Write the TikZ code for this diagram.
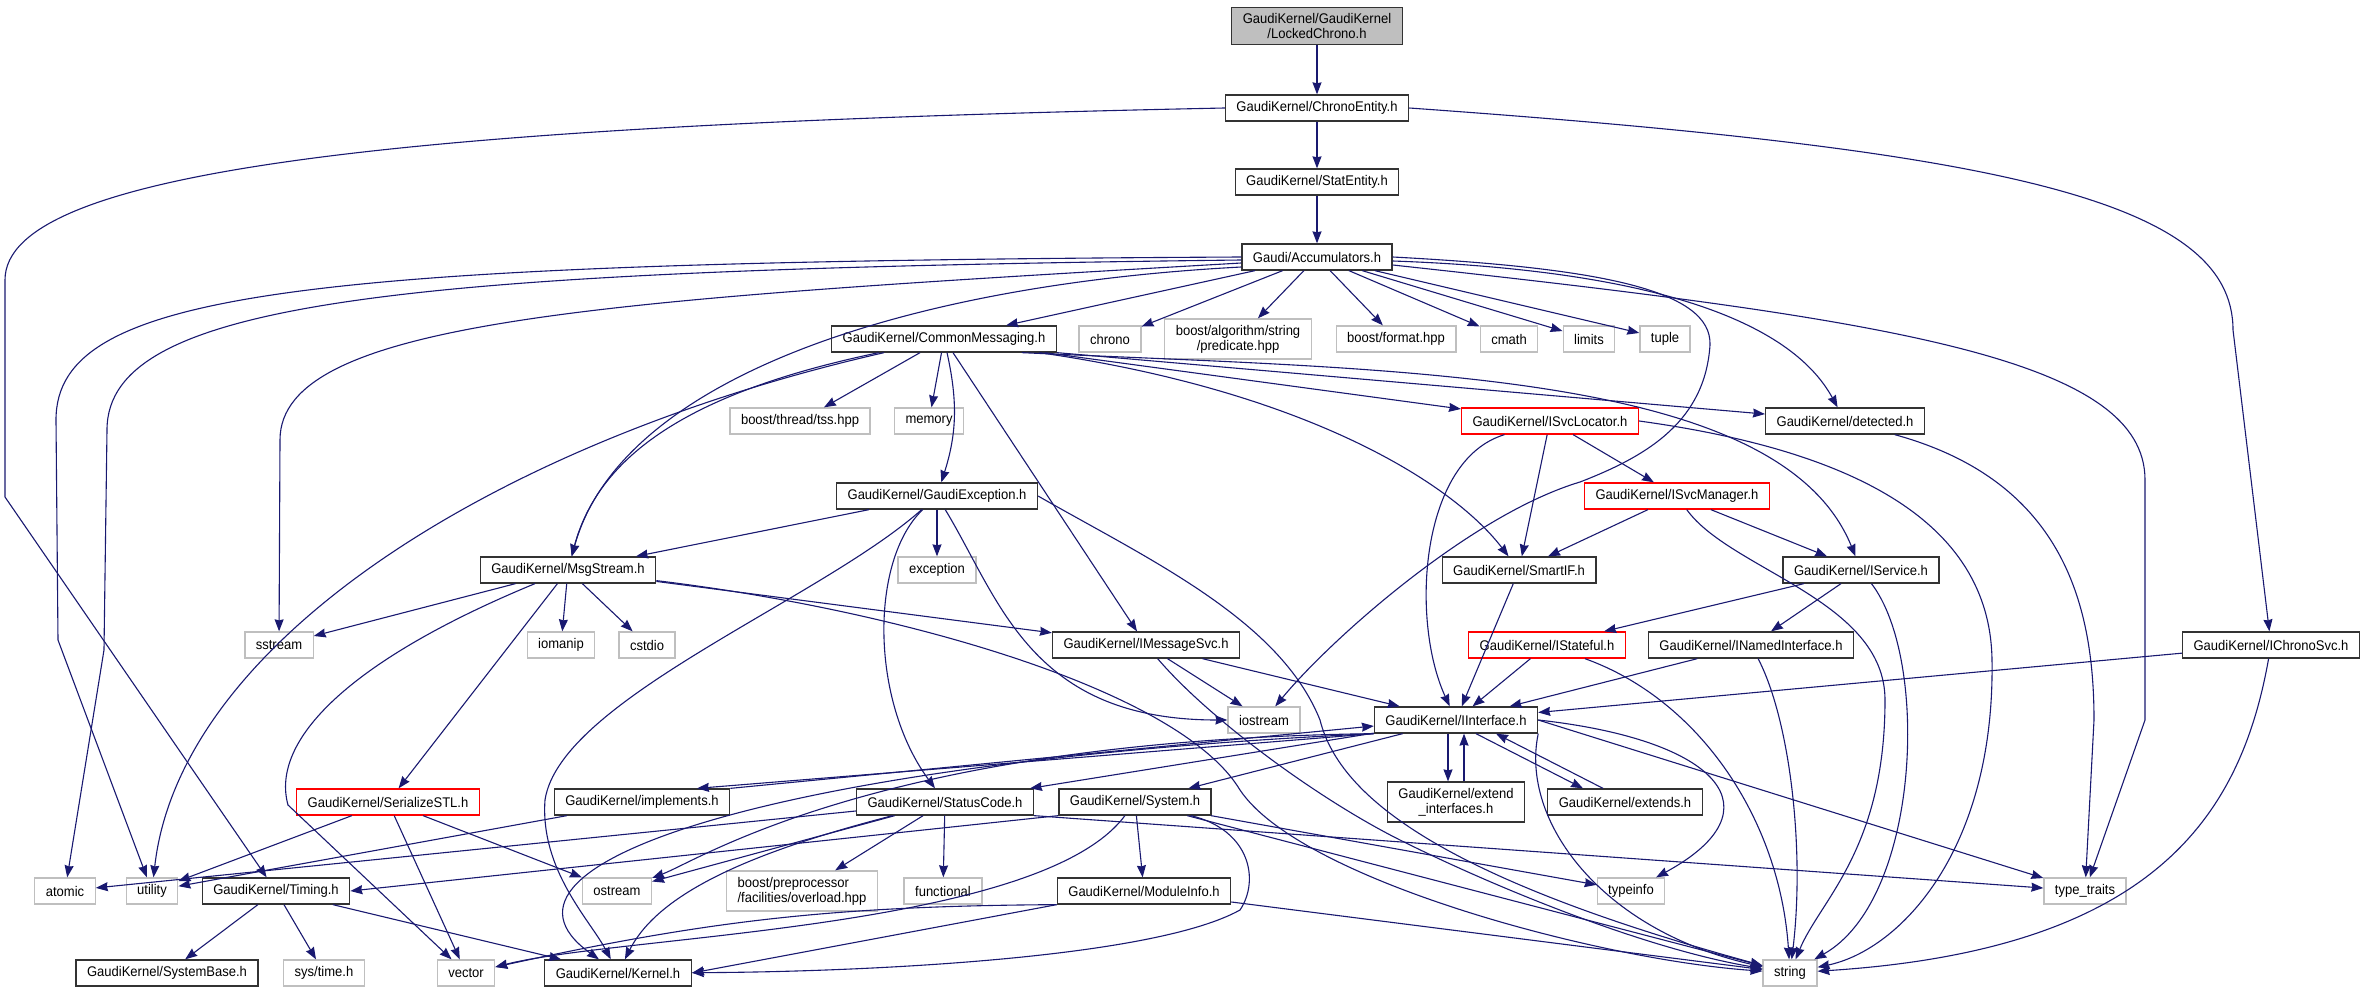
\documentclass[tikz,border=0pt]{standalone}
\usepackage{fontspec}
\newfontfamily\dotfont[FakeStretch=0.93]{Liberation Sans}
\usetikzlibrary{arrows.meta}
\definecolor{edgeblue}{HTML}{191970}

\begin{document}
\begin{tikzpicture}[x=1pt, y=1pt,
                file/.style={draw=black!80, line width=1.3pt, fill=white, inner xsep=11pt, inner ysep=6pt, minimum height=26pt, align=center, font=\dotfont\fontsize{14pt}{15pt}\selectfont},
                sysfile/.style={file, draw=black!25},
                cutfile/.style={file, draw=red},
                mainfile/.style={file, fill=black!25},
                edge/.style={draw=edgeblue, line width=1.1pt, -{Stealth[length=12pt, width=9pt, inset=1pt]}}]
                \useasboundingbox (0,0) rectangle (2366,-992);

                \node[mainfile] (lock) at (1317,-26) {GaudiKernel/GaudiKernel\\/LockedChrono.h};
                \node[file] (ce) at (1317,-108) {GaudiKernel/ChronoEntity.h};
                \node[file] (se) at (1317,-182) {GaudiKernel/StatEntity.h};
                \node[file] (acc) at (1317,-257) {Gaudi/Accumulators.h};
                \node[file] (cm) at (944,-339) {GaudiKernel/CommonMessaging.h};
                \node[sysfile] (chrono) at (1110,-339) {chrono};
                \node[sysfile] (pred) at (1238,-339) {boost/algorithm/string\\/predicate.hpp};
                \node[sysfile] (bfmt) at (1396,-339) {boost/format.hpp};
                \node[sysfile] (cmath) at (1509,-339) {cmath};
                \node[sysfile] (limits) at (1589,-339) {limits};
                \node[sysfile] (tuple) at (1665,-339) {tuple};
                \node[sysfile] (tss) at (800,-421) {boost/thread/tss.hpp};
                \node[sysfile] (memory) at (929,-421) {memory};
                \node[cutfile] (isl) at (1550,-421) {GaudiKernel/ISvcLocator.h};
                \node[file] (det) at (1845,-421) {GaudiKernel/detected.h};
                \node[file] (gex) at (937,-496) {GaudiKernel/GaudiException.h};
                \node[cutfile] (ism) at (1677,-496) {GaudiKernel/ISvcManager.h};
                \node[file] (ms) at (568,-570) {GaudiKernel/MsgStream.h};
                \node[sysfile] (exc) at (937,-570) {exception};
                \node[file] (sif) at (1519,-570) {GaudiKernel/SmartIF.h};
                \node[file] (isv) at (1861,-570) {GaudiKernel/IService.h};
                \node[sysfile] (sst) at (279,-645) {sstream};
                \node[sysfile] (iom) at (561,-645) {iomanip};
                \node[sysfile] (cst) at (647,-645) {cstdio};
                \node[file] (imsg) at (1146,-645) {GaudiKernel/IMessageSvc.h};
                \node[cutfile] (ist) at (1547,-645) {GaudiKernel/IStateful.h};
                \node[file] (ini) at (1751,-645) {GaudiKernel/INamedInterface.h};
                \node[file] (ichr) at (2271,-645) {GaudiKernel/IChronoSvc.h};
                \node[sysfile] (ios) at (1264,-720) {iostream};
                \node[file] (iif) at (1456,-720) {GaudiKernel/IInterface.h};
                \node[cutfile] (ser) at (388,-802) {GaudiKernel/SerializeSTL.h};
                \node[file] (imp) at (642,-802) {GaudiKernel/implements.h};
                \node[file] (sc) at (945,-802) {GaudiKernel/StatusCode.h};
                \node[file] (sys) at (1135,-802) {GaudiKernel/System.h};
                \node[file] (ext) at (1456,-802) {GaudiKernel/extend\\\_interfaces.h};
                \node[file] (exs) at (1625,-802) {GaudiKernel/extends.h};
                \node[sysfile] (atomic) at (65,-891) {atomic};
                \node[sysfile] (utility) at (152,-891) {utility};
                \node[file] (tim) at (276,-891) {GaudiKernel/Timing.h};
                \node[sysfile] (ost) at (617,-891) {ostream};
                \node[sysfile, align=left] (bpp) at (802,-891) {boost/preprocessor\\/facilities/overload.hpp};
                \node[sysfile] (fun) at (943,-891) {functional};
                \node[file] (mi) at (1144,-891) {GaudiKernel/ModuleInfo.h};
                \node[sysfile] (tinf) at (1631,-891) {typeinfo};
                \node[sysfile] (tt) at (2085,-891) {type\_traits};
                \node[file] (sb) at (167,-973) {GaudiKernel/SystemBase.h};
                \node[sysfile] (stime) at (324,-973) {sys/time.h};
                \node[sysfile] (vec) at (466,-973) {vector};
                \node[file] (ker) at (618,-973) {GaudiKernel/Kernel.h};
                \node[sysfile] (str) at (1790,-973) {string};

                \draw[edge] (lock) -- (ce);
                \draw[edge] (ce) -- (se);
                \draw[edge] (se) -- (acc);
                \draw[edge] (ce.west) .. controls (400,-125) and (5,-170) .. (5,-280) -- (5,-497) -- (tim);
                \draw[edge] (ce.east) .. controls (2000,-150) and (2233,-200) .. (2233,-330) -- (ichr);

                \draw[edge] (acc) -- (cm);
                \draw[edge] (acc) -- (chrono);
                \draw[edge] (acc) -- (pred);
                \draw[edge] (acc) -- (bfmt);
                \draw[edge] (acc) -- (cmath);
                \draw[edge] (acc) -- (limits);
                \draw[edge] (acc) -- (tuple);
                \draw[edge] ([yshift=-10pt]acc.west) .. controls (900,-285) and (620,-380) .. (ms);
                \draw[edge] (acc.west) .. controls (300,-262) and (56,-290) .. (56,-420) -- (58,-640) -- (utility);
                \draw[edge] ([yshift=-3pt]acc.west) .. controls (400,-270) and (107,-300) .. (107,-430) -- (104,-650) -- (atomic);
                \draw[edge] ([yshift=-6pt]acc.west) .. controls (600,-300) and (280,-320) .. (280,-440) -- (sst);
                \draw[edge] (acc.east) .. controls (1600,-268) and (1712,-290) .. (1710,-345) .. controls (1705,-420) and (1650,-455) .. (1580,-482) .. controls (1470,-515) and (1330,-640) .. (ios);
                \draw[edge] ([yshift=-4pt]acc.east) .. controls (1650,-270) and (1790,-320) .. (det);
                \draw[edge] ([yshift=-8pt]acc.east) .. controls (1900,-320) and (2145,-360) .. (2145,-480) -- (2145,-720) -- (tt);

                \draw[edge] (cm) -- (tss);
                \draw[edge] (cm) -- (memory);
                \draw[edge] (cm) to[bend left=15] (gex);
                \draw[edge] (cm) -- (imsg);
                \draw[edge] (cm) .. controls (1300,-390) and (1450,-480) .. (sif);
                \draw[edge] (cm) -- (isl);
                \draw[edge] (cm.south east) -- (det);
                \draw[edge] ([xshift=-35pt]cm.south east) .. controls (1400,-370) and (1780,-370) .. (isv);
                \draw[edge] (cm) .. controls (700,-390) and (600,-450) .. (ms);
                \draw[edge] (cm) .. controls (500,-440) and (180,-640) .. (utility);

                \draw[edge] (gex) -- (ms);
                \draw[edge] (gex) .. controls (820,-600) and (560,-700) .. (545,-800) .. controls (540,-870) and (590,-920) .. (ker);
                \draw[edge] (gex) .. controls (870,-560) and (870,-700) .. (sc);
                \draw[edge] (gex) -- (exc);
                \draw[edge] (gex) .. controls (1000,-600) and (1030,-720) .. (ios);
                \draw[edge] (gex.east) .. controls (1150,-560) and (1280,-620) .. (1320,-720) .. controls (1340,-800) and (1450,-880) .. (str);

                \draw[edge] (ms) -- (sst);
                \draw[edge] (ms) .. controls (350,-660) and (270,-740) .. (288,-805) -- (vec);
                \draw[edge] (ms) -- (ser);
                \draw[edge] (ms) -- (iom);
                \draw[edge] (ms) -- (cst);
                \draw[edge] (ms) -- (imsg);
                \draw[edge] (ms) .. controls (900,-610) and (1180,-690) .. (1240,-790) .. controls (1300,-880) and (1600,-960) .. (str);

                \draw[edge] (imsg) -- (ios);
                \draw[edge] (imsg) -- (iif);
                \draw[edge] (imsg) .. controls (1210,-720) and (1320,-800) .. (1400,-840) .. controls (1500,-890) and (1650,-950) .. (str);

                \draw[edge] (isl) .. controls (1420,-460) and (1410,-620) .. (iif);
                \draw[edge] (isl) -- (sif);
                \draw[edge] (isl) -- (ism);
                \draw[edge] (isl.east) .. controls (1850,-450) and (1990,-520) .. (1992,-660) .. controls (1995,-850) and (1900,-950) .. (str);

                \draw[edge] (ism) -- (sif);
                \draw[edge] (ism) -- (isv);
                \draw[edge] (ism) .. controls (1730,-570) and (1885,-600) .. (1885,-700) .. controls (1885,-850) and (1820,-900) .. (str);

                \draw[edge] (sif) -- (iif);

                \draw[edge] (isv) -- (ist);
                \draw[edge] (isv) -- (ini);
                \draw[edge] (isv) .. controls (1930,-660) and (1920,-900) .. (str);

                \draw[edge] (ist) -- (iif);
                \draw[edge] (ist) .. controls (1700,-700) and (1780,-820) .. (str);
                \draw[edge] (ini) -- (iif);
                \draw[edge] (ini) .. controls (1790,-720) and (1805,-850) .. (str);
                \draw[edge] (ichr) -- (iif);
                \draw[edge] (ichr) .. controls (2240,-820) and (2150,-950) .. (str);
                \draw[edge] (det) .. controls (2060,-480) and (2094,-600) .. (2094,-720) -- (tt);

                \draw[edge] ([xshift=-8pt]iif.south) -- ([xshift=-8pt]ext.north);
                \draw[edge] ([xshift=8pt]ext.north) -- ([xshift=8pt]iif.south);
                \draw[edge] ([xshift=20pt]iif.south) -- ([xshift=-42pt]exs.north);
                \draw[edge] ([xshift=-22pt]exs.north) -- ([xshift=40pt]iif.south);
                \draw[edge] (iif) -- (sc);
                \draw[edge] (iif) -- (sys);
                \draw[edge] (iif.south west) -- ([xshift=55pt]imp.north);
                \draw[edge] (imp.north east) -- ([yshift=-6pt]iif.west);
                \draw[edge] (iif.south west) .. controls (800,-760) and (460,-860) .. (ker);
                \draw[edge] (iif.south west) .. controls (880,-740) and (700,-860) .. (ost);
                \draw[edge] (iif.east) .. controls (1720,-740) and (1780,-810) .. (tinf);
                \draw[edge] (iif.east) -- (tt);
                \draw[edge] (iif.south east) .. controls (1520,-820) and (1600,-930) .. (str);

                \draw[edge] (sc) -- (atomic);
                \draw[edge] (sc) -- (ost);
                \draw[edge] (sc) .. controls (760,-850) and (660,-890) .. (ker);
                \draw[edge] (sc) -- (bpp);
                \draw[edge] (sc) -- (fun);
                \draw[edge] (sc.south east) -- (tt);

                \draw[edge] (sys.south west) -- (tim.east);
                \draw[edge] (sys) .. controls (1040,-930) and (620,-935) .. ([yshift=6pt]vec.east);
                \draw[edge] (sys) -- (mi);
                \draw[edge] (sys) .. controls (1250,-830) and (1260,-880) .. (1240,-910) .. controls (1150,-960) and (850,-972) .. (ker);
                \draw[edge] (sys) -- (str);
                \draw[edge] (sys) -- (tinf);

                \draw[edge] (mi.south west) to[bend right=6] ([yshift=6pt]vec.east);
                \draw[edge] (mi.south west) -- (ker.east);
                \draw[edge] (mi) -- (str);

                \draw[edge] (tim) -- (sb);
                \draw[edge] (tim) -- (stime);
                \draw[edge] (tim) -- (ker);

                \draw[edge] (ser) -- (utility);
                \draw[edge] (ser) -- (vec);
                \draw[edge] (ser) -- (ost);
                \draw[edge] (imp) -- (utility);
            \end{tikzpicture}
\end{document}
